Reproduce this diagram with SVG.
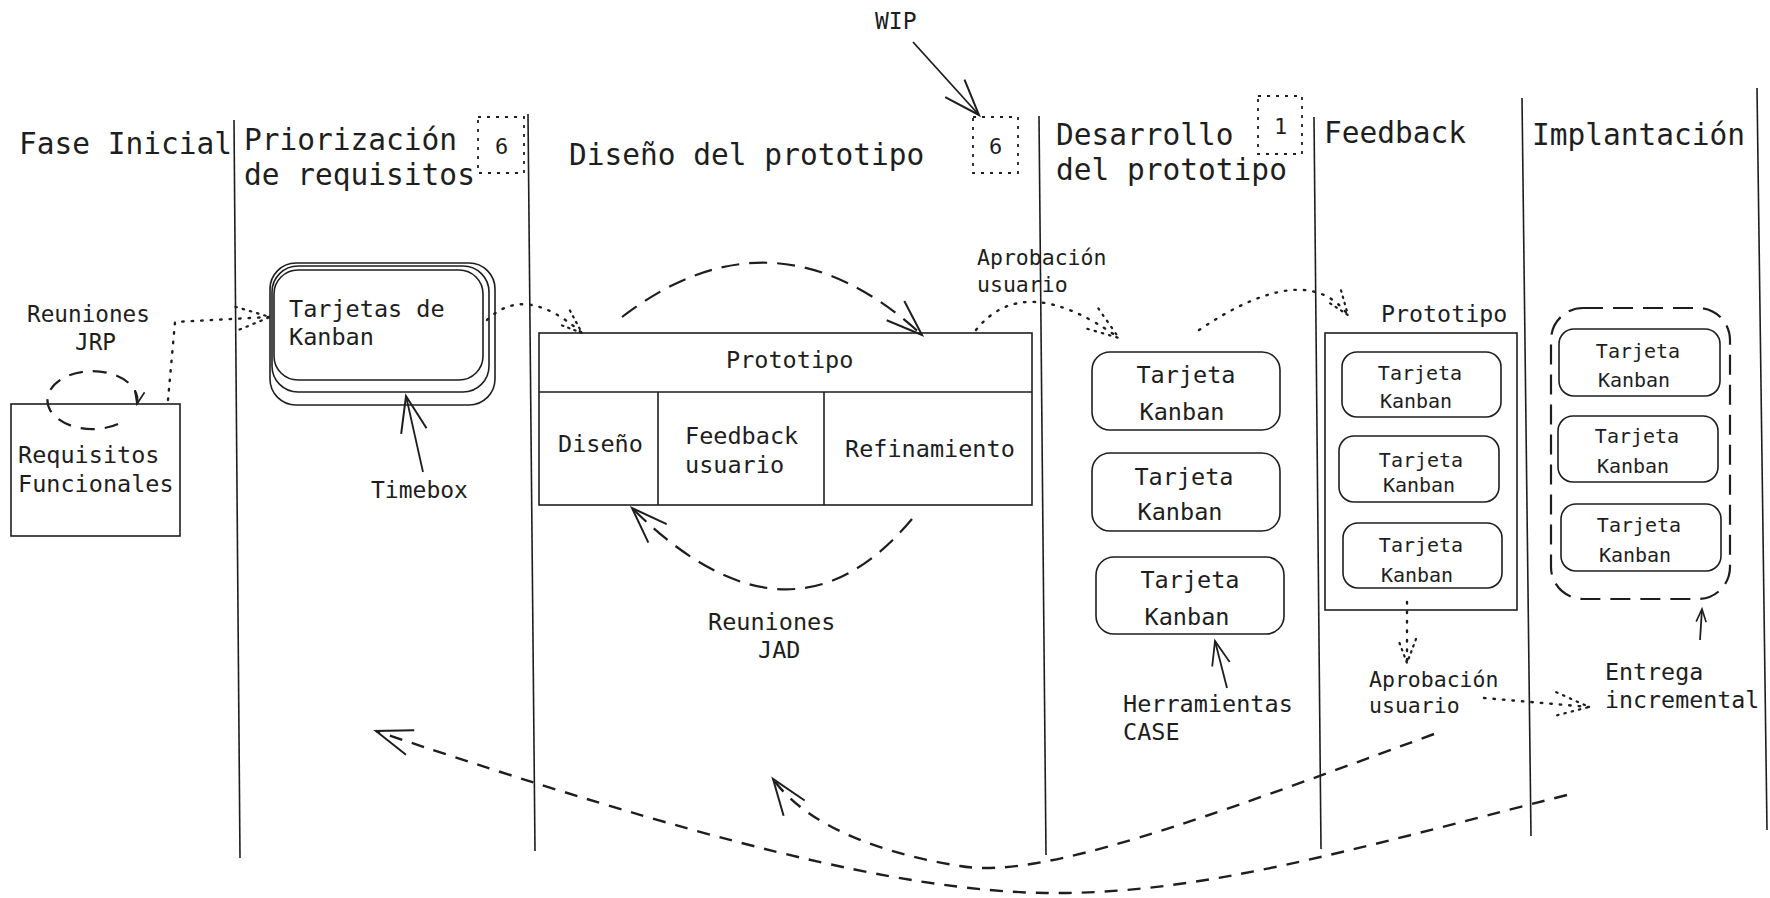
<svg xmlns="http://www.w3.org/2000/svg" width="1770" height="898" viewBox="0 0 1770 898">
<defs>
<style>
text{font-family:"DejaVu Sans Mono","Liberation Mono",monospace;fill:#1e1e1e}
.h{font-size:29.5px}
.t{font-size:23.5px}
.s{font-size:21.5px}
.k{font-size:20px}
.n{font-size:22px}
.c{text-anchor:middle}
.lane{stroke:#1e1e1e;stroke-width:1.6;fill:none}
.box{stroke:#1e1e1e;stroke-width:1.6;fill:none}
.wip{stroke:#1e1e1e;stroke-width:1.8;fill:none;stroke-dasharray:3 6}
.sol{stroke:#1e1e1e;stroke-width:1.8;fill:none}
.dash{stroke:#1e1e1e;stroke-width:2.2;fill:none;stroke-dasharray:18 10}
.dash2{stroke:#1e1e1e;stroke-width:2.4;fill:none;stroke-dasharray:13 10}
.dot{stroke:#1e1e1e;stroke-width:2.4;fill:none;stroke-dasharray:1.5 8;stroke-linecap:round}
</style>
<marker id="ahL" markerUnits="userSpaceOnUse" markerWidth="40" markerHeight="30" refX="36" refY="13" orient="auto" overflow="visible"><path d="M0,0 L36,13 L0,26" fill="none" stroke="#1e1e1e" stroke-width="2"/></marker>
<marker id="ahM" markerUnits="userSpaceOnUse" markerWidth="30" markerHeight="20" refX="24" refY="9" orient="auto" overflow="visible"><path d="M0,0 L24,9 L0,18" fill="none" stroke="#1e1e1e" stroke-width="1.8"/></marker>
<marker id="ahS" markerUnits="userSpaceOnUse" markerWidth="16" markerHeight="12" refX="13" refY="5" orient="auto" overflow="visible"><path d="M0,0 L13,5 L0,10" fill="none" stroke="#1e1e1e" stroke-width="1.6"/></marker>
<marker id="adL" markerUnits="userSpaceOnUse" markerWidth="40" markerHeight="30" refX="34" refY="12" orient="auto" overflow="visible"><path d="M0,0 L34,12 L0,24" fill="none" stroke="#1e1e1e" stroke-width="2.2" stroke-dasharray="1.5 6" stroke-linecap="round"/></marker>
<marker id="adM" markerUnits="userSpaceOnUse" markerWidth="30" markerHeight="20" refX="24" refY="9" orient="auto" overflow="visible"><path d="M0,0 L24,9 L0,18" fill="none" stroke="#1e1e1e" stroke-width="2.2" stroke-dasharray="1.5 5" stroke-linecap="round"/></marker>
</defs>
<rect width="1770" height="898" fill="#ffffff"/>

<g id="lanes">
<line class="lane" x1="234" y1="120" x2="240" y2="858"/>
<line class="lane" x1="528" y1="114" x2="535" y2="851"/>
<line class="lane" x1="1039" y1="116" x2="1046" y2="855"/>
<line class="lane" x1="1314" y1="117" x2="1321" y2="849"/>
<line class="lane" x1="1522" y1="98" x2="1531" y2="836"/>
<line class="lane" x1="1757" y1="88" x2="1767" y2="830"/>
</g>

<g id="headers">
<text class="h" x="19" y="154">Fase Inicial</text>
<text class="h" x="244" y="150">Priorización</text>
<text class="h" x="244" y="185">de requisitos</text>
<text class="h" x="569" y="165">Diseño del prototipo</text>
<text class="h" x="1056" y="145">Desarrollo</text>
<text class="h" x="1056" y="180">del prototipo</text>
<text class="h" x="1324" y="143">Feedback</text>
<text class="h" x="1532" y="145">Implantación</text>
</g>

<g id="wip-limits">
<rect class="wip" x="478" y="117" width="46" height="56"/>
<text class="n" x="495" y="154">6</text>
<rect class="wip" x="973" y="117" width="45" height="56"/>
<text class="n" x="989" y="154">6</text>
<rect class="wip" x="1258" y="96" width="44" height="58"/>
<text class="n" x="1274" y="134">1</text>
<text class="t" x="875" y="29" style="font-size:23px">WIP</text>
</g>

<g id="requisitos">
<rect class="box" x="11" y="404" width="169" height="132"/>
<text class="t" x="18" y="463">Requisitos</text>
<text class="t" x="18" y="492">Funcionales</text>
</g>

<g id="reuniones-jrp">
<text class="t" x="27" y="322" style="font-size:22.7px">Reuniones</text>
<text class="t" x="75" y="350" style="font-size:22.7px">JRP</text>
</g>

<g id="tarjetas-kanban">
<rect class="box" x="270" y="263" width="225" height="142" rx="26"/>
<rect class="box" x="272" y="266" width="217" height="126" rx="26"/>
<rect class="box" x="274" y="270" width="209" height="110" rx="24" fill="#ffffff"/>
<text class="t" x="289" y="317">Tarjetas de</text>
<text class="t" x="289" y="345">Kanban</text>
</g>

<g id="timebox">
<text class="t" x="371" y="498" style="font-size:23px">Timebox</text>
</g>

<g id="prototipo-tabla">
<rect class="box" x="539" y="333" width="493" height="172"/>
<line class="box" x1="539" y1="392" x2="1032" y2="392"/>
<line class="box" x1="658" y1="392" x2="658" y2="505"/>
<line class="box" x1="824" y1="392" x2="824" y2="505"/>
<text class="t" x="726" y="368">Prototipo</text>
<text class="t" x="558" y="452">Diseño</text>
<text class="t" x="685" y="444">Feedback</text>
<text class="t" x="685" y="473">usuario</text>
<text class="t" x="845" y="457">Refinamiento</text>
</g>

<g id="reuniones-jad">
<text class="t" x="708" y="630">Reuniones</text>
<text class="t" x="758" y="658">JAD</text>
</g>

<g id="aprobacion-1">
<text class="s" x="977" y="265">Aprobación</text>
<text class="s" x="977" y="292">usuario</text>
</g>

<g id="desarrollo-tarjetas">
<rect class="box" x="1092" y="352" width="188" height="78" rx="18"/>
<text class="t c" x="1186" y="383">Tarjeta</text>
<text class="t c" x="1182" y="420">Kanban</text>
<rect class="box" x="1092" y="453" width="188" height="78" rx="18"/>
<text class="t c" x="1184" y="485">Tarjeta</text>
<text class="t c" x="1180" y="520">Kanban</text>
<rect class="box" x="1096" y="557" width="188" height="77" rx="18"/>
<text class="t c" x="1190" y="588">Tarjeta</text>
<text class="t c" x="1187" y="625">Kanban</text>
</g>

<g id="herramientas-case">
<text class="t" x="1123" y="712">Herramientas</text>
<text class="t" x="1123" y="740">CASE</text>
</g>

<g id="feedback-prototipo">
<text class="t" x="1381" y="322" style="font-size:23.3px">Prototipo</text>
<rect class="box" x="1325" y="333" width="192" height="277"/>
<rect class="box" x="1342" y="352" width="159" height="65" rx="15"/>
<text class="k c" x="1420" y="380">Tarjeta</text>
<text class="k c" x="1416" y="408">Kanban</text>
<rect class="box" x="1339" y="436" width="160" height="66" rx="15"/>
<text class="k c" x="1421" y="467">Tarjeta</text>
<text class="k c" x="1419" y="492">Kanban</text>
<rect class="box" x="1343" y="523" width="159" height="65" rx="15"/>
<text class="k c" x="1421" y="552">Tarjeta</text>
<text class="k c" x="1417" y="582">Kanban</text>
</g>

<g id="aprobacion-2">
<text class="s" x="1369" y="687">Aprobación</text>
<text class="s" x="1369" y="713">usuario</text>
</g>

<g id="implantacion-tarjetas">
<rect class="dash" x="1551" y="308" width="179" height="291" rx="32" style="stroke-dasharray:20 10"/>
<rect class="box" x="1559" y="329" width="161" height="67" rx="15"/>
<text class="k c" x="1638" y="358">Tarjeta</text>
<text class="k c" x="1634" y="387">Kanban</text>
<rect class="box" x="1558" y="416" width="160" height="66" rx="15"/>
<text class="k c" x="1637" y="443">Tarjeta</text>
<text class="k c" x="1633" y="473">Kanban</text>
<rect class="box" x="1561" y="504" width="160" height="67" rx="15"/>
<text class="k c" x="1639" y="532">Tarjeta</text>
<text class="k c" x="1635" y="562">Kanban</text>
</g>

<g id="entrega-incremental">
<text class="t" x="1605" y="680" style="font-size:23.3px">Entrega</text>
<text class="t" x="1605" y="708" style="font-size:23.3px">incremental</text>
</g>

<g id="connectors">
<path class="sol" d="M913,42 L979,115" marker-end="url(#ahL)"/>
<path class="sol" d="M423,472 L406,396" marker-end="url(#ahL)"/>
<path class="sol" d="M1227,688 L1215,641" marker-end="url(#ahM)"/>
<path class="sol" d="M1700,640 L1702,609" marker-end="url(#ahS)"/>
<path class="dash" d="M118,424 A45,29 0 1 1 137,404" style="stroke-dasharray:14 10" marker-end="url(#ahS)"/>
<path class="dot" d="M168,400 L175,322 L270,317" marker-end="url(#adL)"/>
<path class="dot" d="M487,320 Q525,283 582,333" marker-end="url(#adM)"/>
<path class="dash" d="M622,317 Q775,200 922,335" marker-end="url(#ahL)"/>
<path class="dash" d="M912,519 Q790,665 632,508" marker-end="url(#ahL)"/>
<path class="dot" d="M976,330 Q1024,270 1119,338" marker-end="url(#adL)"/>
<path class="dot" d="M1199,330 Q1306,258 1348,315" marker-end="url(#adM)"/>
<path class="dot" d="M1407,602 L1407,663" marker-end="url(#adM)"/>
<path class="dot" d="M1484,698 L1589,707" marker-end="url(#adL)"/>
<path class="dash2" d="M1434,734 C1200,820 1040,880 960,866 C890,855 810,830 773,779" marker-end="url(#ahL)"/>
<path class="dash2" d="M1567,795 C1350,850 1200,895 1046,893 C900,891 700,840 376,731" marker-end="url(#ahL)"/>
</g>
</svg>
